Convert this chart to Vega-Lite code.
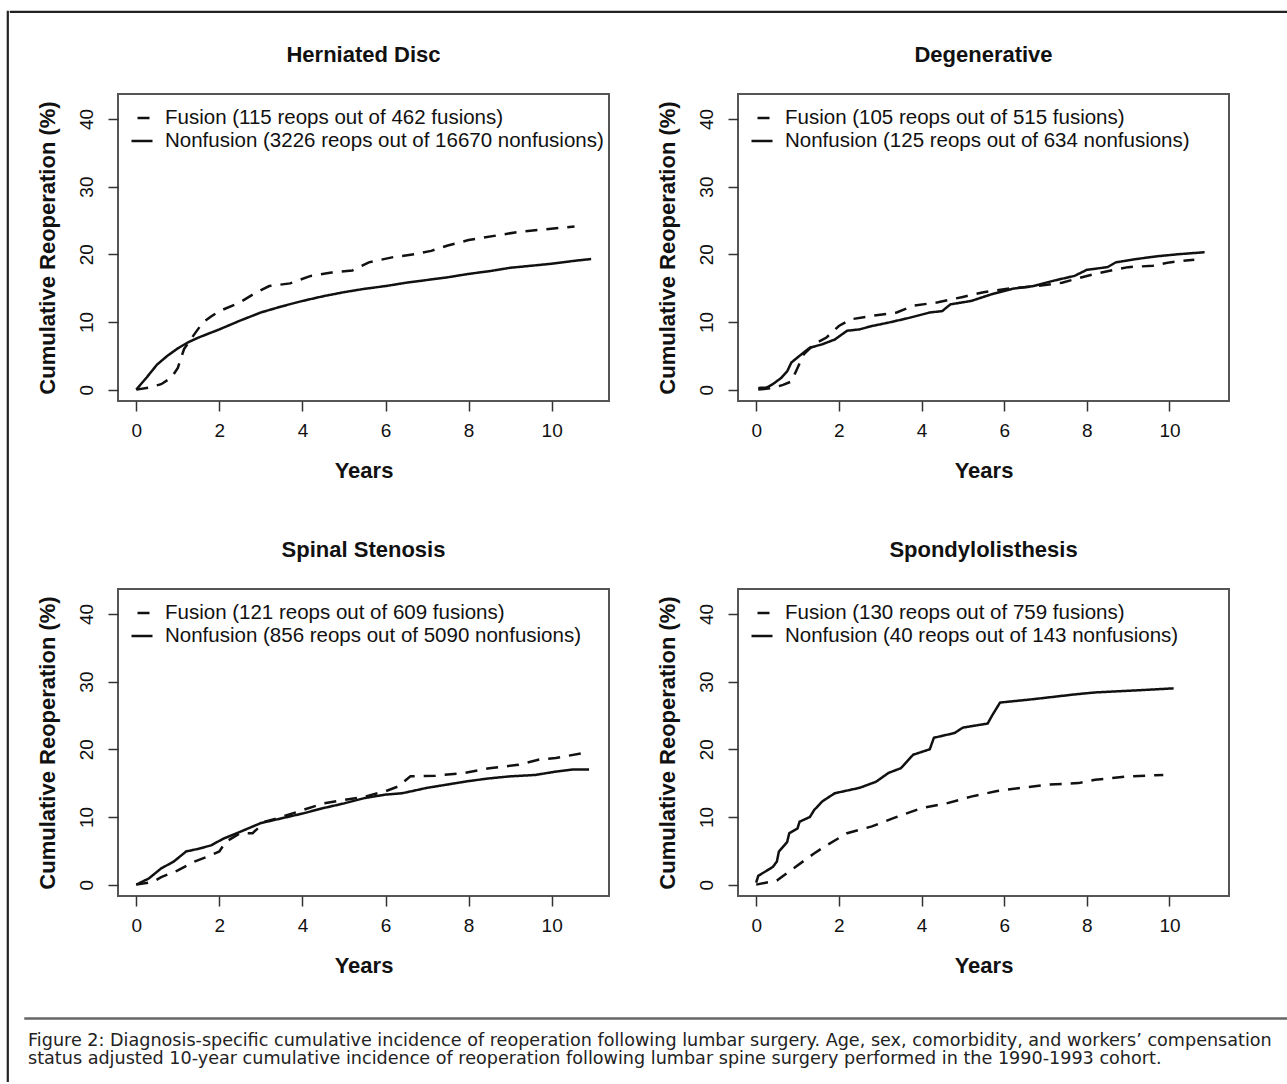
{
  "$schema": "https://vega.github.io/schema/vega-lite/v6.json",
  "padding": {"left": 6, "top": 10, "right": 0, "bottom": 0},
  "background": "white",
  "config": {
    "font": "Liberation Sans",
    "view": {"stroke": "#555", "strokeWidth": 2},
    "axis": {"domain": false, "grid": false, "tickSize": 10, "tickWidth": 1.5, "tickColor": "#333", "labelFont": "Liberation Sans", "labelFontSize": 19, "labelColor": "#111", "titleFont": "Liberation Sans", "titleFontSize": 22, "titleFontWeight": "bold", "titleColor": "#111", "labelOverlap": false, "labelFlush": false},
    "axisX": {"labelPadding": 10, "titlePadding": 20, "labelAngle": 0},
    "axisY": {"labelAngle": 270, "labelAlign": "center", "labelBaseline": "alphabetic", "labelPadding": 16, "titlePadding": 18},
    "legend": {"orient": "top-left", "offset": 12, "padding": 0, "symbolType": "stroke", "symbolSize": 441, "symbolStrokeWidth": 2.5, "symbolStrokeColor": "#111", "symbolDashOffset": 15, "labelFont": "Liberation Sans", "labelFontSize": 20.5, "labelColor": "#111", "labelOffset": 11, "labelLimit": 0, "rowPadding": -1},
    "title": {"font": "Liberation Sans", "fontSize": 22, "fontWeight": "bold", "color": "#111", "anchor": "middle", "frame": "group", "offset": 27, "baseline": "alphabetic"}
  },
  "datasets": {
    "hd": [
      {"t":0,"v":0,"g":"N"},{"t":0.25,"v":1.8,"g":"N"},{"t":0.5,"v":3.7,"g":"N"},{"t":0.75,"v":5.0,"g":"N"},{"t":1.0,"v":6.1,"g":"N"},{"t":1.25,"v":7.0,"g":"N"},{"t":1.5,"v":7.7,"g":"N"},{"t":2.0,"v":8.9,"g":"N"},{"t":2.5,"v":10.2,"g":"N"},{"t":3.0,"v":11.4,"g":"N"},{"t":3.5,"v":12.3,"g":"N"},{"t":4.0,"v":13.1,"g":"N"},{"t":4.5,"v":13.8,"g":"N"},{"t":5.0,"v":14.4,"g":"N"},{"t":5.5,"v":14.9,"g":"N"},{"t":6.0,"v":15.3,"g":"N"},{"t":6.5,"v":15.8,"g":"N"},{"t":7.0,"v":16.2,"g":"N"},{"t":7.5,"v":16.6,"g":"N"},{"t":8.0,"v":17.1,"g":"N"},{"t":8.5,"v":17.5,"g":"N"},{"t":9.0,"v":18.0,"g":"N"},{"t":9.5,"v":18.3,"g":"N"},{"t":10.0,"v":18.6,"g":"N"},{"t":10.5,"v":19.0,"g":"N"},{"t":10.95,"v":19.3,"g":"N"},
      {"t":0,"v":0,"g":"F"},{"t":0.3,"v":0.3,"g":"F"},{"t":0.6,"v":0.8,"g":"F"},{"t":0.85,"v":1.8,"g":"F"},{"t":1.0,"v":3.2,"g":"F"},{"t":1.15,"v":6.0,"g":"F"},{"t":1.4,"v":8.2,"g":"F"},{"t":1.6,"v":9.9,"g":"F"},{"t":1.8,"v":10.8,"g":"F"},{"t":2.0,"v":11.6,"g":"F"},{"t":2.5,"v":12.9,"g":"F"},{"t":2.9,"v":14.4,"g":"F"},{"t":3.2,"v":15.3,"g":"F"},{"t":3.7,"v":15.7,"g":"F"},{"t":4.2,"v":16.8,"g":"F"},{"t":4.7,"v":17.3,"g":"F"},{"t":5.2,"v":17.6,"g":"F"},{"t":5.6,"v":18.8,"g":"F"},{"t":6.2,"v":19.6,"g":"F"},{"t":6.7,"v":20.0,"g":"F"},{"t":7.1,"v":20.5,"g":"F"},{"t":7.5,"v":21.3,"g":"F"},{"t":8.0,"v":22.1,"g":"F"},{"t":8.7,"v":22.8,"g":"F"},{"t":9.2,"v":23.3,"g":"F"},{"t":9.7,"v":23.6,"g":"F"},{"t":10.55,"v":24.1,"g":"F"}
    ],
    "dg": [
      {"t":0.05,"v":0.25,"g":"N"},{"t":0.25,"v":0.3,"g":"N"},{"t":0.4,"v":0.8,"g":"N"},{"t":0.6,"v":1.7,"g":"N"},{"t":0.75,"v":2.7,"g":"N"},{"t":0.85,"v":4.0,"g":"N"},{"t":1.05,"v":5.0,"g":"N"},{"t":1.3,"v":6.2,"g":"N"},{"t":1.6,"v":6.7,"g":"N"},{"t":1.9,"v":7.4,"g":"N"},{"t":2.2,"v":8.7,"g":"N"},{"t":2.5,"v":8.9,"g":"N"},{"t":2.8,"v":9.4,"g":"N"},{"t":3.2,"v":9.9,"g":"N"},{"t":3.7,"v":10.6,"g":"N"},{"t":4.2,"v":11.4,"g":"N"},{"t":4.5,"v":11.6,"g":"N"},{"t":4.7,"v":12.6,"g":"N"},{"t":5.2,"v":13.1,"g":"N"},{"t":5.7,"v":14.1,"g":"N"},{"t":6.2,"v":14.9,"g":"N"},{"t":6.7,"v":15.3,"g":"N"},{"t":7.2,"v":16.1,"g":"N"},{"t":7.7,"v":16.8,"g":"N"},{"t":8.0,"v":17.7,"g":"N"},{"t":8.5,"v":18.1,"g":"N"},{"t":8.7,"v":18.8,"g":"N"},{"t":9.2,"v":19.3,"g":"N"},{"t":9.7,"v":19.7,"g":"N"},{"t":10.2,"v":20.0,"g":"N"},{"t":10.85,"v":20.3,"g":"N"},
      {"t":0.05,"v":0,"g":"F"},{"t":0.4,"v":0.25,"g":"F"},{"t":0.65,"v":0.7,"g":"F"},{"t":0.85,"v":1.2,"g":"F"},{"t":1.0,"v":3.2,"g":"F"},{"t":1.15,"v":5.2,"g":"F"},{"t":1.4,"v":6.7,"g":"F"},{"t":1.7,"v":7.7,"g":"F"},{"t":2.0,"v":9.4,"g":"F"},{"t":2.3,"v":10.4,"g":"F"},{"t":2.8,"v":10.9,"g":"F"},{"t":3.4,"v":11.4,"g":"F"},{"t":3.8,"v":12.4,"g":"F"},{"t":4.4,"v":12.9,"g":"F"},{"t":5.0,"v":13.7,"g":"F"},{"t":5.5,"v":14.4,"g":"F"},{"t":6.2,"v":15.0,"g":"F"},{"t":6.8,"v":15.3,"g":"F"},{"t":7.4,"v":15.8,"g":"F"},{"t":8.0,"v":16.8,"g":"F"},{"t":8.5,"v":17.5,"g":"F"},{"t":9.0,"v":18.1,"g":"F"},{"t":9.6,"v":18.3,"g":"F"},{"t":10.0,"v":18.8,"g":"F"},{"t":10.6,"v":19.2,"g":"F"}
    ],
    "ss": [
      {"t":0,"v":0,"g":"N"},{"t":0.3,"v":0.9,"g":"N"},{"t":0.6,"v":2.4,"g":"N"},{"t":0.9,"v":3.4,"g":"N"},{"t":1.2,"v":4.9,"g":"N"},{"t":1.5,"v":5.3,"g":"N"},{"t":1.8,"v":5.8,"g":"N"},{"t":2.1,"v":6.8,"g":"N"},{"t":2.5,"v":7.8,"g":"N"},{"t":3.0,"v":9.1,"g":"N"},{"t":3.5,"v":9.8,"g":"N"},{"t":4.0,"v":10.5,"g":"N"},{"t":4.5,"v":11.3,"g":"N"},{"t":5.0,"v":12.0,"g":"N"},{"t":5.5,"v":12.8,"g":"N"},{"t":6.0,"v":13.3,"g":"N"},{"t":6.4,"v":13.5,"g":"N"},{"t":7.0,"v":14.3,"g":"N"},{"t":7.5,"v":14.8,"g":"N"},{"t":8.0,"v":15.3,"g":"N"},{"t":8.5,"v":15.7,"g":"N"},{"t":9.0,"v":16.0,"g":"N"},{"t":9.6,"v":16.2,"g":"N"},{"t":10.1,"v":16.7,"g":"N"},{"t":10.5,"v":17.0,"g":"N"},{"t":10.9,"v":17.0,"g":"N"},
      {"t":0,"v":0,"g":"F"},{"t":0.4,"v":0.4,"g":"F"},{"t":0.6,"v":1.1,"g":"F"},{"t":1.0,"v":2.1,"g":"F"},{"t":1.4,"v":3.4,"g":"F"},{"t":1.7,"v":4.1,"g":"F"},{"t":2.0,"v":4.9,"g":"F"},{"t":2.15,"v":6.3,"g":"F"},{"t":2.5,"v":7.6,"g":"F"},{"t":2.8,"v":7.6,"g":"F"},{"t":3.1,"v":9.3,"g":"F"},{"t":3.5,"v":10.0,"g":"F"},{"t":4.0,"v":11.0,"g":"F"},{"t":4.5,"v":12.0,"g":"F"},{"t":5.0,"v":12.5,"g":"F"},{"t":5.5,"v":13.0,"g":"F"},{"t":6.0,"v":13.8,"g":"F"},{"t":6.3,"v":14.5,"g":"F"},{"t":6.6,"v":16.0,"g":"F"},{"t":7.2,"v":16.1,"g":"F"},{"t":7.9,"v":16.5,"g":"F"},{"t":8.5,"v":17.2,"g":"F"},{"t":9.2,"v":17.7,"g":"F"},{"t":9.7,"v":18.5,"g":"F"},{"t":10.1,"v":18.7,"g":"F"},{"t":10.8,"v":19.5,"g":"F"}
    ],
    "sp": [
      {"t":0,"v":0.3,"g":"N"},{"t":0.05,"v":1.3,"g":"N"},{"t":0.4,"v":2.6,"g":"N"},{"t":0.5,"v":3.4,"g":"N"},{"t":0.55,"v":4.9,"g":"N"},{"t":0.75,"v":6.3,"g":"N"},{"t":0.8,"v":7.6,"g":"N"},{"t":1.0,"v":8.3,"g":"N"},{"t":1.05,"v":9.3,"g":"N"},{"t":1.3,"v":10.0,"g":"N"},{"t":1.4,"v":11.0,"g":"N"},{"t":1.6,"v":12.3,"g":"N"},{"t":1.9,"v":13.5,"g":"N"},{"t":2.5,"v":14.3,"g":"N"},{"t":2.9,"v":15.2,"g":"N"},{"t":3.2,"v":16.5,"g":"N"},{"t":3.5,"v":17.2,"g":"N"},{"t":3.8,"v":19.2,"g":"N"},{"t":4.2,"v":20.0,"g":"N"},{"t":4.3,"v":21.7,"g":"N"},{"t":4.8,"v":22.4,"g":"N"},{"t":5.0,"v":23.2,"g":"N"},{"t":5.6,"v":23.8,"g":"N"},{"t":5.7,"v":24.9,"g":"N"},{"t":5.9,"v":26.9,"g":"N"},{"t":6.7,"v":27.4,"g":"N"},{"t":7.7,"v":28.1,"g":"N"},{"t":8.2,"v":28.4,"g":"N"},{"t":9.2,"v":28.7,"g":"N"},{"t":10.1,"v":29.0,"g":"N"},
      {"t":0,"v":0,"g":"F"},{"t":0.5,"v":0.6,"g":"F"},{"t":0.9,"v":2.4,"g":"F"},{"t":1.4,"v":4.6,"g":"F"},{"t":1.7,"v":5.8,"g":"F"},{"t":2.2,"v":7.6,"g":"F"},{"t":2.8,"v":8.6,"g":"F"},{"t":3.4,"v":10.0,"g":"F"},{"t":4.0,"v":11.3,"g":"F"},{"t":4.6,"v":12.0,"g":"F"},{"t":5.2,"v":13.0,"g":"F"},{"t":5.8,"v":13.8,"g":"F"},{"t":6.4,"v":14.3,"g":"F"},{"t":7.1,"v":14.8,"g":"F"},{"t":7.8,"v":15.0,"g":"F"},{"t":8.2,"v":15.5,"g":"F"},{"t":9.0,"v":16.0,"g":"F"},{"t":9.85,"v":16.2,"g":"F"}
    ],
    "empty": []
  },
  "spacing": 0,
  "resolve": {"scale": {"x": "independent", "y": "independent", "strokeDash": "independent"}, "legend": {"strokeDash": "independent"}},
  "hconcat": [
    {"width": 1, "height": 1070, "view": {"stroke": "#222", "strokeWidth": 1.2}, "data": {"name": "empty"}, "mark": "rule", "encoding": {}},
    {
      "spacing": 30,
      "resolve": {"scale": {"x": "independent", "y": "independent", "strokeDash": "independent"}, "legend": {"strokeDash": "independent"}},
      "vconcat": [
        {"width": 1277, "height": 1, "view": {"stroke": "#222", "strokeWidth": 1.2}, "data": {"name": "empty"}, "mark": "rule", "encoding": {}},
        {
          "spacing": 24,
          "resolve": {"scale": {"x": "independent", "y": "independent", "strokeDash": "independent"}, "legend": {"strokeDash": "independent"}},
          "hconcat": [
            {"width": 1, "height": 893, "view": {"stroke": null}, "data": {"name": "empty"}, "mark": "rule", "encoding": {}},
            {
              "columns": 2,
              "spacing": {"row": 188, "column": 129},
              "bounds": "flush",
              "resolve": {"scale": {"x": "independent", "y": "independent", "strokeDash": "independent"}, "legend": {"strokeDash": "independent"}},
              "concat": [
                {
                  "width": 491, "height": 307,
                  "title": {"text": "Herniated Disc"},
                  "data": {"name": "hd"},
                  "mark": {"type": "line", "strokeWidth": 2.5, "color": "#111"},
                  "encoding": {
                    "x": {"field": "t", "type": "quantitative", "scale": {"domain": [-0.44, 11.38], "nice": false, "zero": false}, "axis": {"values": [0,2,4,6,8,10], "title": "Years"}},
                    "y": {"field": "v", "type": "quantitative", "scale": {"domain": [-1.68, 43.68], "nice": false, "zero": false}, "axis": {"values": [0,10,20,30,40], "title": "Cumulative Reoperation (%)"}},
                    "strokeDash": {"field": "g", "type": "nominal", "scale": {"domain": ["F","N"], "range": [[12,9],[1,0]]}, "legend": {"title": null, "labelExpr": "datum.label == 'F' ? 'Fusion (115 reops out of 462 fusions)' : 'Nonfusion (3226 reops out of 16670 nonfusions)'"}}
                  }
                },
                {
                  "width": 491, "height": 307,
                  "title": {"text": "Degenerative"},
                  "data": {"name": "dg"},
                  "mark": {"type": "line", "strokeWidth": 2.5, "color": "#111"},
                  "encoding": {
                    "x": {"field": "t", "type": "quantitative", "scale": {"domain": [-0.44, 11.44], "nice": false, "zero": false}, "axis": {"values": [0,2,4,6,8,10], "title": "Years"}},
                    "y": {"field": "v", "type": "quantitative", "scale": {"domain": [-1.68, 43.68], "nice": false, "zero": false}, "axis": {"values": [0,10,20,30,40], "title": "Cumulative Reoperation (%)"}},
                    "strokeDash": {"field": "g", "type": "nominal", "scale": {"domain": ["F","N"], "range": [[12,9],[1,0]]}, "legend": {"title": null, "labelExpr": "datum.label == 'F' ? 'Fusion (105 reops out of 515 fusions)' : 'Nonfusion (125 reops out of 634 nonfusions)'"}}
                  }
                },
                {
                  "width": 491, "height": 307,
                  "title": {"text": "Spinal Stenosis"},
                  "data": {"name": "ss"},
                  "mark": {"type": "line", "strokeWidth": 2.5, "color": "#111"},
                  "encoding": {
                    "x": {"field": "t", "type": "quantitative", "scale": {"domain": [-0.44, 11.38], "nice": false, "zero": false}, "axis": {"values": [0,2,4,6,8,10], "title": "Years"}},
                    "y": {"field": "v", "type": "quantitative", "scale": {"domain": [-1.68, 43.68], "nice": false, "zero": false}, "axis": {"values": [0,10,20,30,40], "title": "Cumulative Reoperation (%)"}},
                    "strokeDash": {"field": "g", "type": "nominal", "scale": {"domain": ["F","N"], "range": [[12,9],[1,0]]}, "legend": {"title": null, "labelExpr": "datum.label == 'F' ? 'Fusion (121 reops out of 609 fusions)' : 'Nonfusion (856 reops out of 5090 nonfusions)'"}}
                  }
                },
                {
                  "width": 491, "height": 307,
                  "title": {"text": "Spondylolisthesis"},
                  "data": {"name": "sp"},
                  "mark": {"type": "line", "strokeWidth": 2.5, "color": "#111"},
                  "encoding": {
                    "x": {"field": "t", "type": "quantitative", "scale": {"domain": [-0.44, 11.44], "nice": false, "zero": false}, "axis": {"values": [0,2,4,6,8,10], "title": "Years"}},
                    "y": {"field": "v", "type": "quantitative", "scale": {"domain": [-1.68, 43.68], "nice": false, "zero": false}, "axis": {"values": [0,10,20,30,40], "title": "Cumulative Reoperation (%)"}},
                    "strokeDash": {"field": "g", "type": "nominal", "scale": {"domain": ["F","N"], "range": [[12,9],[1,0]]}, "legend": {"title": null, "labelExpr": "datum.label == 'F' ? 'Fusion (130 reops out of 759 fusions)' : 'Nonfusion (40 reops out of 143 nonfusions)'"}}
                  }
                }
              ]
            }
          ]
        },
        {
          "spacing": 13,
          "hconcat": [
            {"width": 1, "height": 1, "view": {"stroke": null}, "data": {"name": "empty"}, "mark": "rule", "encoding": {}},
            {
              "width": 1262, "height": 1,
              "view": {"stroke": "#666", "strokeWidth": 1.5},
              "data": {"name": "empty"}, "mark": "rule", "encoding": {},
              "title": {"text": ["Figure 2: Diagnosis-specific cumulative incidence of reoperation following lumbar surgery. Age, sex, comorbidity, and workers’ compensation", "status adjusted 10-year cumulative incidence of reoperation following lumbar spine surgery performed in the 1990-1993 cohort."], "orient": "bottom", "anchor": "start", "frame": "group", "font": "DejaVu Sans", "fontSize": 17.6, "fontWeight": "normal", "lineHeight": 18, "offset": 13, "baseline": "top", "color": "#222", "dx": 3}
            }
          ]
        }
      ]
    }
  ]
}
